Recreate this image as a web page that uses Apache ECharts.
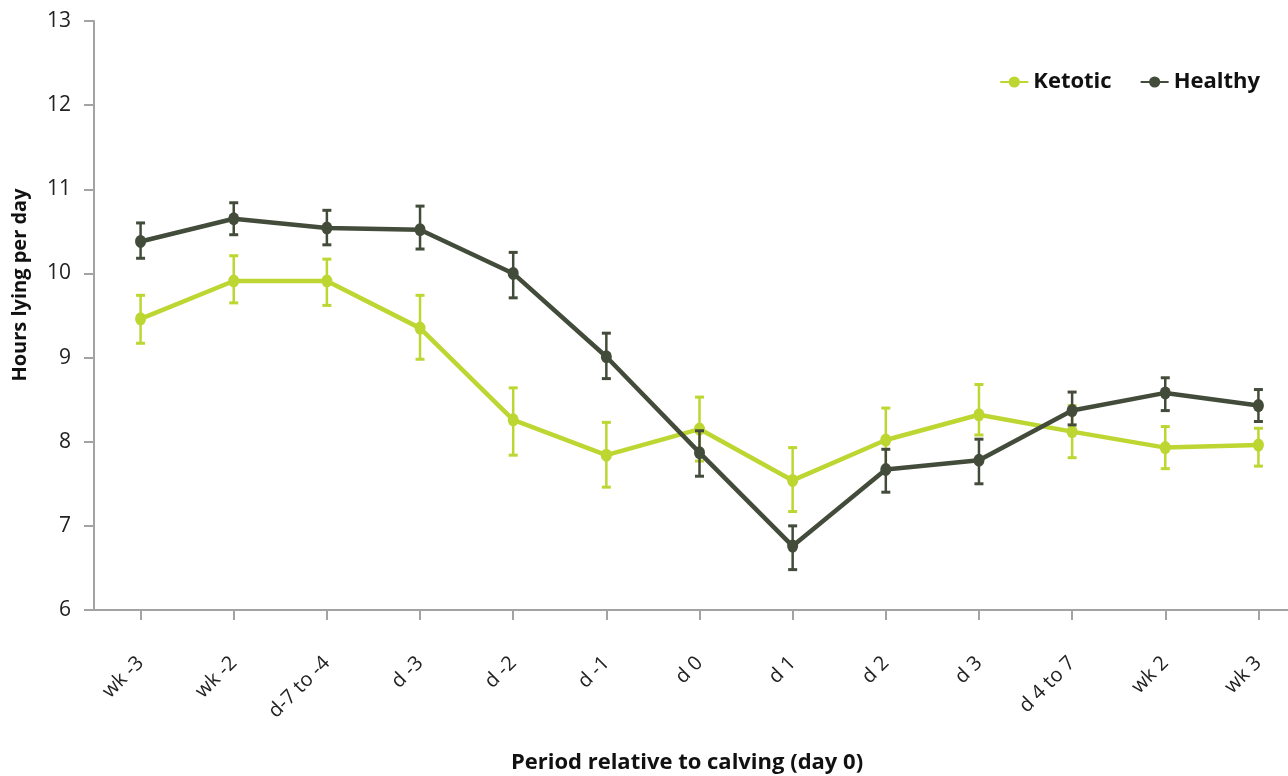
<!DOCTYPE html>
<html>
<head>
<meta charset="utf-8">
<script src="https://cdn.jsdelivr.net/npm/echarts@6/dist/echarts.min.js"></script>
<style>
  html, body { margin: 0; padding: 0; background: #ffffff; overflow: hidden; width: 1288px; height: 776px; }
  #chart { width: 1305px; height: 776px; }
</style>
</head>
<body>
<div id="chart"></div>
<script>
const categories = ['wk -3', 'wk -2', 'd-7 to -4', 'd -3', 'd -2', 'd -1', 'd 0', 'd 1', 'd 2', 'd 3', 'd 4 to 7', 'wk 2', 'wk 3'];
const yTicks = [6, 7, 8, 9, 10, 11, 12, 13];

const ketotic     = [9.46, 9.91, 9.91, 9.35, 8.26, 7.84, 8.15, 7.54, 8.02, 8.32, 8.12, 7.93, 7.96];
const ketoticLow  = [9.17, 9.65, 9.62, 8.98, 7.84, 7.46, 7.77, 7.17, 7.65, 8.08, 7.81, 7.68, 7.71];
const ketoticHigh = [9.74, 10.21, 10.17, 9.74, 8.64, 8.23, 8.53, 7.93, 8.40, 8.68, 8.43, 8.18, 8.16];

const healthy     = [10.38, 10.65, 10.54, 10.52, 10.00, 9.01, 7.87, 6.76, 7.67, 7.78, 8.37, 8.58, 8.43];
const healthyLow  = [10.18, 10.46, 10.34, 10.29, 9.71, 8.75, 7.59, 6.48, 7.40, 7.50, 8.20, 8.37, 8.24];
const healthyHigh = [10.60, 10.84, 10.75, 10.80, 10.25, 9.29, 8.13, 7.00, 7.91, 8.03, 8.59, 8.76, 8.62];

const GREEN = '#bdd631';
const DARK = '#434c3a';
const AXIS = '#a3a3a6';
const FONT = '"Open Sans", "Noto Sans", sans-serif';

function errData(low, high) {
  return categories.map((c, i) => [i, low[i], high[i]]);
}

function errRender(color) {
  return function (params, api) {
    const x = api.value(0);
    const lo = api.coord([x, api.value(1)]);
    const hi = api.coord([x, api.value(2)]);
    const half = 4.5;
    return {
      type: 'group',
      children: [
        { type: 'line', shape: { x1: hi[0], y1: hi[1], x2: lo[0], y2: lo[1] }, style: { stroke: color, lineWidth: 2.5 } },
        { type: 'line', shape: { x1: hi[0] - half, y1: hi[1], x2: hi[0] + half, y2: hi[1] }, style: { stroke: color, lineWidth: 3 } },
        { type: 'line', shape: { x1: lo[0] - half, y1: lo[1], x2: lo[0] + half, y2: lo[1] }, style: { stroke: color, lineWidth: 3 } }
      ]
    };
  };
}

const chart = echarts.init(document.getElementById('chart'), null, { renderer: 'canvas' });

chart.setOption({
  backgroundColor: '#ffffff',
  animation: false,
  grid: { left: 94, right: 0, top: 21, bottom: 166, containLabel: false },
  legend: {
    right: 40,
    top: 66,
    itemWidth: 28,
    itemHeight: 14,
    itemGap: 28,
    data: ['Ketotic', 'Healthy'],
    textStyle: { fontFamily: FONT, fontWeight: 'bold', fontSize: 22, color: '#111111' }
  },
  xAxis: {
    type: 'category',
    data: categories,
    boundaryGap: true,
    axisLine: { show: true, lineStyle: { color: AXIS, width: 2 } },
    axisTick: { show: true, alignWithLabel: true, length: 10, lineStyle: { color: AXIS, width: 2 } },
    axisLabel: { rotate: 45, margin: 50, fontFamily: FONT, fontSize: 20, color: '#222222' },
    splitLine: { show: false }
  },
  yAxis: {
    type: 'value',
    min: yTicks[0],
    max: yTicks[yTicks.length - 1],
    interval: 1,
    axisLine: { show: true, lineStyle: { color: AXIS, width: 2 } },
    axisTick: { show: true, length: 10, lineStyle: { color: AXIS, width: 2 } },
    axisLabel: { margin: 23, fontFamily: FONT, fontSize: 21, color: '#222222' },
    splitLine: { show: false }
  },
  graphic: [
    {
      type: 'text',
      x: 20,
      y: 285,
      rotation: Math.PI / 2,
      style: {
        text: 'Hours lying per day',
        fontFamily: FONT,
        fontWeight: 'bold',
        fontSize: 20,
        fill: '#111111',
        align: 'center',
        verticalAlign: 'middle'
      }
    },
    {
      type: 'text',
      x: 687,
      y: 763,
      style: {
        text: 'Period relative to calving (day 0)',
        fontFamily: FONT,
        fontWeight: 'bold',
        fontSize: 22,
        fill: '#111111',
        align: 'center',
        verticalAlign: 'middle'
      }
    }
  ],
  series: [
    {
      name: 'Ketotic',
      type: 'line',
      data: ketotic,
      z: 2,
      symbol: 'circle',
      symbolSize: [11, 13],
      lineStyle: { color: GREEN, width: 4.5 },
      itemStyle: { color: GREEN },
      emphasis: { disabled: true }
    },
    {
      name: 'Ketotic',
      type: 'custom',
      data: errData(ketoticLow, ketoticHigh),
      renderItem: errRender(GREEN),
      encode: { x: 0, y: [1, 2] },
      z: 3,
      silent: true
    },
    {
      name: 'Healthy',
      type: 'line',
      data: healthy,
      z: 4,
      symbol: 'circle',
      symbolSize: [11, 13],
      lineStyle: { color: DARK, width: 4.5 },
      itemStyle: { color: DARK },
      emphasis: { disabled: true }
    },
    {
      name: 'Healthy',
      type: 'custom',
      data: errData(healthyLow, healthyHigh),
      renderItem: errRender(DARK),
      encode: { x: 0, y: [1, 2] },
      z: 5,
      silent: true
    }
  ]
});
</script>
</body>
</html>
